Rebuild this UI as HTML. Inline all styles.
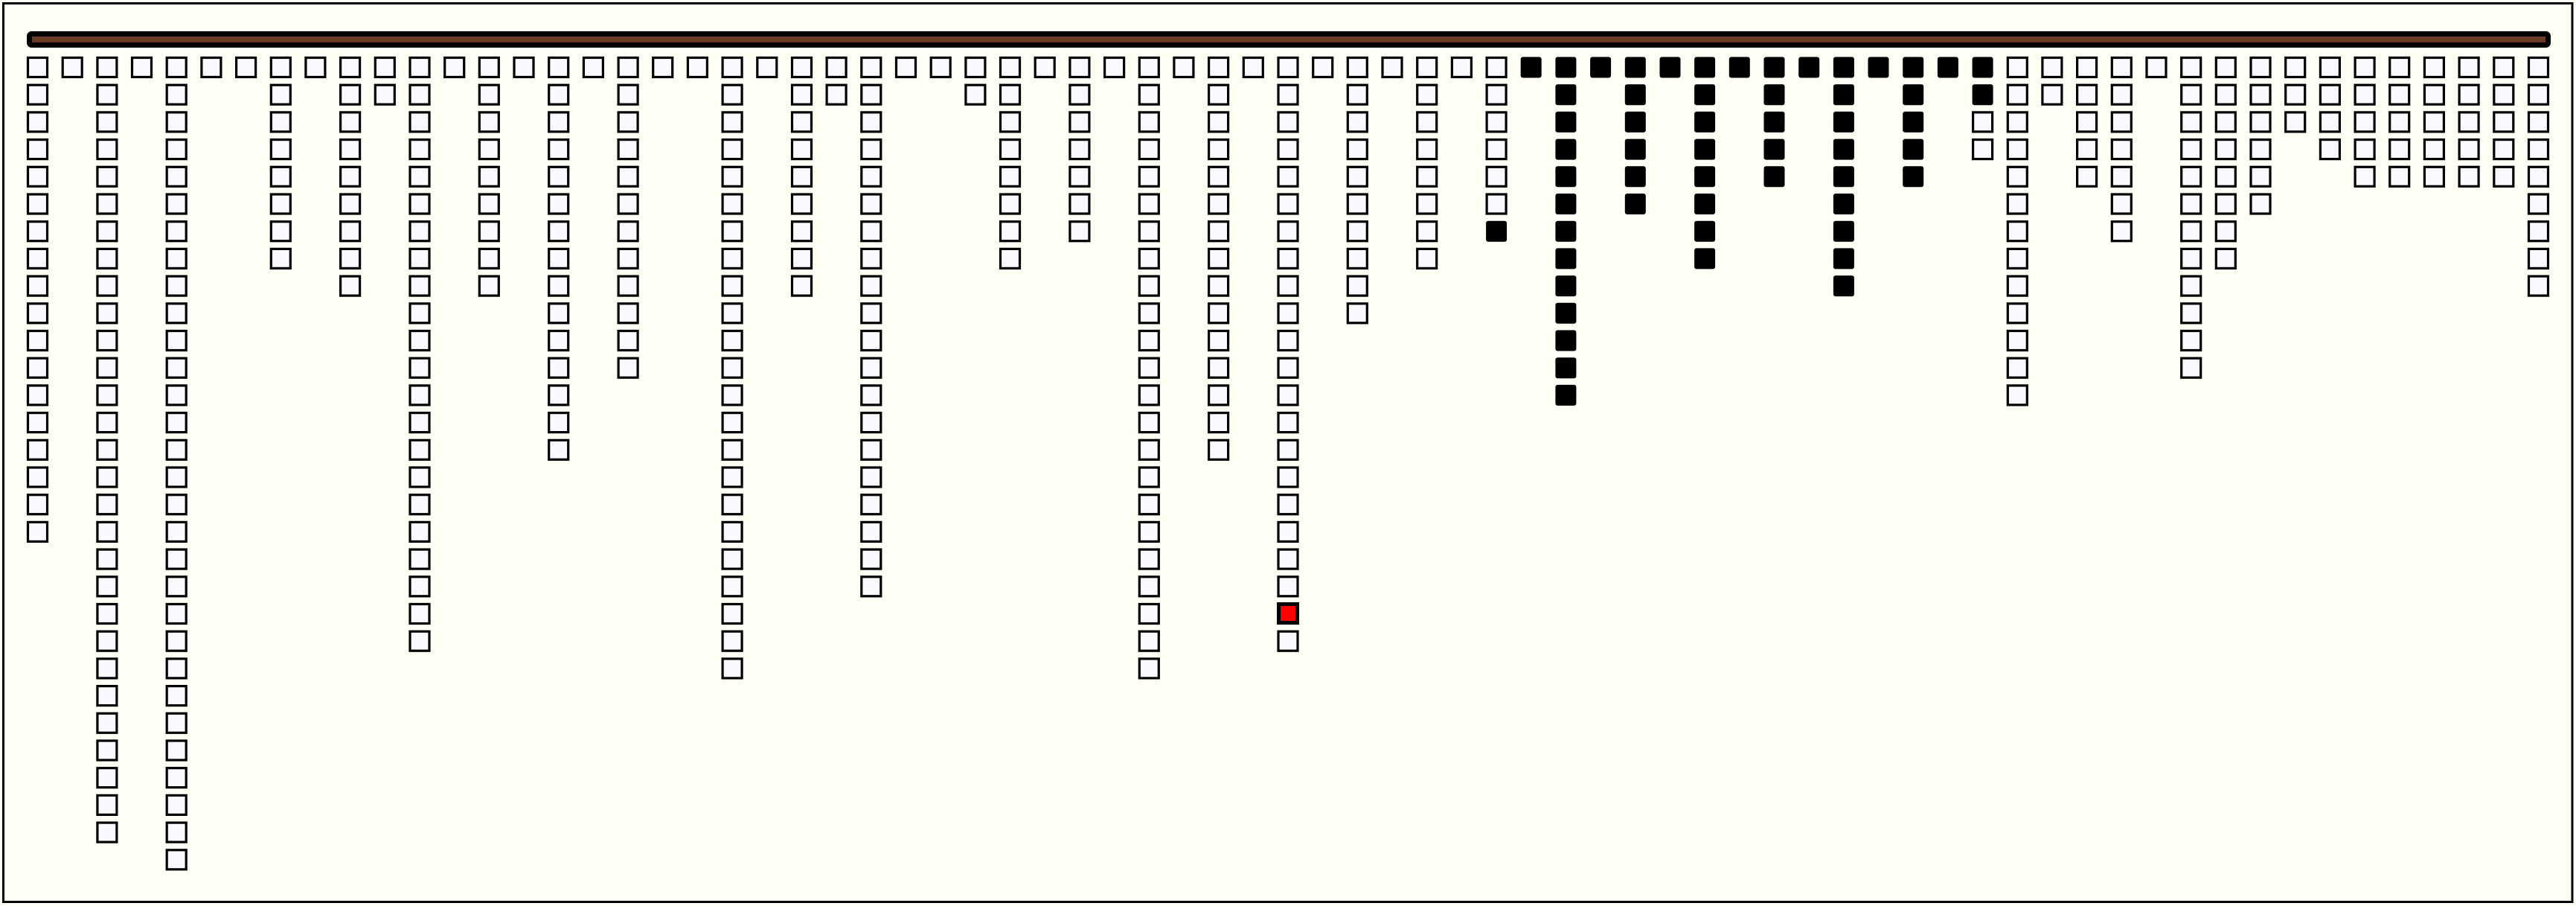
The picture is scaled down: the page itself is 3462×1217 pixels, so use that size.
<!DOCTYPE html>
<html><head><meta charset="utf-8">
<style>
html,body{margin:0;padding:0;background:#fffff6;}
svg{display:block;}
</style></head>
<body>
<svg id="s" width="3462" height="1217" viewBox="0 0 3462 1217" xmlns="http://www.w3.org/2000/svg">
<rect x="0" y="0" width="3462" height="1217" fill="#fffff6"/>
<rect x="4.5" y="4.5" width="3452" height="3207" fill="none" stroke="#000" stroke-width="3" style="display:none"/>
<rect x="4.5" y="4.5" width="3452.5" height="1207" fill="none" stroke="#000" stroke-width="3"/>
<rect x="39.5" y="45.5" width="3385" height="15" rx="3" fill="#6b3a22" stroke="#000" stroke-width="7"/>
<g id="g"></g>
</svg>
<script>
var counts=[18,1,29,1,30,1,1,8,1,9,2,22,1,9,1,15,1,12,1,1,23,1,9,2,20,1,1,2,8,1,7,1,23,1,15,1,22,1,10,1,8,1,7,1,13,1,6,1,8,1,5,1,9,1,5,1,4,13,2,5,7,1,12,8,6,3,4,5,5,5,5,5,9];
var g=document.getElementById('g'),h='';
for(var c=0;c<counts.length;c++){
  var x=36+c*46.68;
  for(var r=0;r<counts[c];r++){
    var y=76+r*36.7;
    var col=c+1, fill='#f9f9ff', black=false, red=false;
    if((col>=44&&col<=56)||(col==43&&r==counts[c]-1)||(col==57&&r<2)) black=true;
    if(col==37&&r==20) red=true;
    if(black){
      h+='<rect x="'+(x+0.5).toFixed(1)+'" y="'+(y+0.5).toFixed(1)+'" width="28" height="28" rx="3" fill="#000"/>';
    } else if(red){
      h+='<rect x="'+(x+2).toFixed(1)+'" y="'+(y+1.5).toFixed(1)+'" width="25" height="25" fill="#ff0000" stroke="#000" stroke-width="5"/>';
    } else {
      h+='<rect x="'+(x+1.5).toFixed(1)+'" y="'+(y+1.5).toFixed(1)+'" width="26" height="26" fill="'+fill+'" stroke="#000" stroke-width="3.2"/>';
    }
  }
}
g.innerHTML=h;
</script>
</body></html>
